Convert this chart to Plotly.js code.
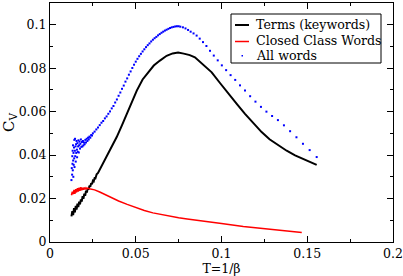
<!DOCTYPE html>
<html>
<head>
<meta charset="utf-8">
<script src="https://cdn.plot.ly/plotly-3.0.1.min.js"></script>
<style>html,body{margin:0;padding:0;background:#fff}#chart{width:403px;height:276px}</style>
</head>
<body>
<div id="chart"></div>
<script>
// Terms (keywords)
const termsT = [0.0125,0.0130,0.0135,0.0140,0.0145,0.0150,0.0155,0.0160,0.0165,0.0170,0.0175,0.0180,0.0185,0.0190,0.0195,0.0200,0.0205,0.0210,0.0215,0.0220,0.0225,0.0230,0.0235,0.0240,0.0245,0.0250,0.0255,0.0260,0.0265,0.0272,0.0280,0.0290,0.0300,
  0.0310,0.0331,0.0360,0.0389,0.0420,0.0447,0.0476,0.0506,0.0540,0.0573,0.0605,0.0641,0.0680,0.0715,0.0747,0.0780,0.0815,0.0845,0.0875,0.0910,0.0943,0.0990,0.1040,0.1090,0.1137,0.1185,0.1234,0.1280,0.1331,0.1380,0.1429,0.1490,0.1555];
const termsC = [0.0118,0.0142,0.0124,0.0156,0.0136,0.0166,0.0149,0.0176,0.0161,0.0186,0.0173,0.0196,0.0186,0.0211,0.0199,0.0223,0.0213,0.0236,0.0227,0.0247,0.0241,0.0259,0.0254,0.0271,0.0266,0.0282,0.0279,0.0294,0.0293,0.0312,0.0318,0.0333,0.0346,
  0.0362,0.0391,0.0435,0.0483,0.0538,0.0590,0.0645,0.0697,0.0748,0.0783,0.0812,0.0835,0.0857,0.0868,0.0872,0.0867,0.0860,0.0850,0.0830,0.0805,0.0781,0.0733,0.0682,0.0635,0.0590,0.0547,0.0506,0.0473,0.0445,0.0420,0.0399,0.0378,0.0355];

// Closed Class Words
const closedT = [0.0125,0.0130,0.0135,0.0140,0.0145,0.0150,0.0155,0.0160,0.0165,0.0170,0.0175,0.0180,0.0185,0.0190,0.0195,0.0200,0.0205,0.0210,0.0215,0.0220,0.0230,0.0240,
  0.0260,0.0290,0.0320,0.0360,0.0400,0.0450,0.0500,0.0550,0.0600,0.0650,0.0700,0.0750,0.0800,0.0875,0.0950,0.1000,0.1127,0.1263,0.1360,0.1468];
const closedC = [0.0215,0.0232,0.0220,0.0240,0.0222,0.0243,0.0228,0.0248,0.0232,0.0250,0.0236,0.0252,0.0238,0.0250,0.0240,0.0251,0.0242,0.0249,0.0244,0.0248,0.0245,0.0244,
  0.0240,0.0230,0.0218,0.0203,0.0189,0.0173,0.0158,0.0145,0.0134,0.0126,0.0118,0.0112,0.0106,0.0099,0.0091,0.0085,0.0071,0.0059,0.0051,0.0044];

// All words
const allT = [0.0125,0.0127,0.0129,0.0130,0.0131,0.0132,0.0133,0.0134,0.0135,0.0136,0.0137,0.0138,0.0140,0.0141,0.0142,0.0143,0.0145,0.0146,0.0147,0.0149,0.0150,0.0152,0.0153,0.0155,0.0157,0.0158,0.0160,0.0162,0.0164,0.0166,0.0168,0.0170,0.0172,0.0175,0.0177,0.0180,0.0183,0.0186,0.0189,0.0192,0.0195,0.0198,0.0202,0.0206,0.0210,0.0214,0.0218,0.0222,0.0226,0.0230,0.0235,0.0240,0.0245,0.0250,
  0.026,0.027,0.028,0.029,0.030,0.031,0.032,0.033,0.034,0.035,0.036,0.037,0.038,0.039,0.040,0.041,0.042,0.043,0.044,0.045,0.046,0.047,0.048,0.049,0.050,0.051,0.052,0.053,0.054,0.055,0.056,0.057,0.058,0.059,0.060,0.061,0.062,0.063,0.064,0.065,0.066,0.067,0.068,0.069,0.070,0.071,0.072,0.073,0.074,0.075,0.076,
  0.0775,0.0790,0.0805,0.0820,0.0837,0.0855,0.0873,0.0892,0.0912,0.0933,0.0955,0.0978,0.1002,0.1027,0.1053,0.1080,0.1108,0.1137,0.1167,0.1198,0.1230,0.1262,0.1295,0.1329,0.1364,0.1400,0.1437,0.1475,0.1514,0.1555];
const allC = [0.0285,0.0340,0.0310,0.0395,0.0360,0.0420,0.0330,0.0445,0.0375,0.0300,0.0410,0.0355,0.0435,0.0385,0.0470,0.0345,0.0420,0.0475,0.0395,0.0440,0.0370,0.0450,0.0410,0.0465,0.0425,0.0390,0.0455,0.0415,0.0440,0.0468,0.0412,0.0445,0.0462,0.0430,0.0452,0.0472,0.0438,0.0460,0.0440,0.0465,0.0445,0.0458,0.0450,0.0470,0.0458,0.0475,0.0465,0.0480,0.0472,0.0485,0.0480,0.0492,0.0490,0.0500,
  0.0508,0.0518,0.0527,0.0538,0.0549,0.0557,0.0569,0.0578,0.0590,0.0601,0.0615,0.0626,0.0642,0.0656,0.0673,0.0688,0.0705,0.0720,0.0738,0.0753,0.0770,0.0785,0.0801,0.0816,0.0830,0.0843,0.0855,0.0866,0.0877,0.0887,0.0897,0.0906,0.0914,0.0923,0.0931,0.0938,0.0944,0.0951,0.0957,0.0963,0.0968,0.0973,0.0977,0.0981,0.0985,0.0988,0.0990,0.0992,0.0993,0.0993,0.0991,
  0.0988,0.0983,0.0976,0.0968,0.0960,0.0950,0.0936,0.0920,0.0902,0.0880,0.0858,0.0836,0.0813,0.0791,0.0768,0.0746,0.0721,0.0697,0.0671,0.0646,0.0622,0.0600,0.0580,0.0561,0.0537,0.0510,0.0482,0.0452,0.0423,0.0391];

const xTicks = [0, 0.05, 0.1, 0.15, 0.2];
const yTicks = [0, 0.02, 0.04, 0.06, 0.08, 0.1];
const legendNames = ['Terms (keywords)', 'Closed Class Words', 'All words'];

const FONT = '"DejaVu Serif", "Liberation Serif", serif';

const traces = [
  {x: termsT, y: termsC, mode: 'lines', name: legendNames[0], line: {color: '#000000', width: 2}, showlegend: false},
  {x: closedT, y: closedC, mode: 'lines', name: legendNames[1], line: {color: '#ff0000', width: 1.5}, showlegend: false},
  {x: allT, y: allC, mode: 'markers', name: legendNames[2], marker: {color: '#0000ff', size: 2, symbol: 'square', line: {width: 0}}, showlegend: false}
];

const L = 50, R = 393, T = 3, B = 242;
const px = v => (v - L) / (R - L);
const py = v => (B - v) / (B - T);

const shapes = [
  {type: 'rect', xref: 'paper', yref: 'paper', x0: px(231), x1: px(381), y0: py(63), y1: py(14), line: {color: '#000', width: 1}, fillcolor: '#fff', layer: 'above'},
  {type: 'line', xref: 'paper', yref: 'paper', x0: px(235), x1: px(249), y0: py(25), y1: py(25), line: {color: '#000', width: 2}, layer: 'above'},
  {type: 'line', xref: 'paper', yref: 'paper', x0: px(235), x1: px(249), y0: py(41.5), y1: py(41.5), line: {color: '#ff0000', width: 1.5}, layer: 'above'},
  {type: 'rect', xref: 'paper', yref: 'paper', x0: px(241.5), x1: px(243), y0: py(56.5), y1: py(55), line: {width: 0}, fillcolor: '#0000ff', layer: 'above'}
];
const rowsY = [24.5, 41, 55.5];
const annotations = legendNames.map((n, i) => ({
  xref: 'paper', yref: 'paper', x: px(254), y: py(rowsY[i]), xanchor: 'left', yanchor: 'middle',
  text: n, showarrow: false, font: {family: FONT, size: 12.6, color: '#000'}
}));

const layout = {
  width: 403, height: 276,
  margin: {l: 50, r: 10, t: 3, b: 34, pad: 0},
  paper_bgcolor: '#fff', plot_bgcolor: '#fff',
  font: {family: FONT, size: 12.5, color: '#000'},
  showlegend: false,
  xaxis: {
    range: [0, 0.2], tickvals: xTicks, ticktext: xTicks.map(String),
    ticks: 'inside', ticklen: 6, tickwidth: 1, tickcolor: '#000',
    showline: true, linecolor: '#000', linewidth: 1, mirror: 'ticks',
    showgrid: false, zeroline: false,
    minor: {dtick: 0.025, tick0: 0, ticks: 'inside', ticklen: 3, tickcolor: '#000', tickwidth: 1, showgrid: false},
    tickfont: {family: FONT, size: 12.5, color: '#000'},
    title: {text: 'T=1/β', font: {family: FONT, size: 12.5, color: '#000'}, standoff: 2}
  },
  yaxis: {
    range: [0, 0.11], tickvals: yTicks, ticktext: yTicks.map(String),
    ticks: 'inside', ticklen: 6, tickwidth: 1, tickcolor: '#000',
    showline: true, linecolor: '#000', linewidth: 1, mirror: 'ticks',
    showgrid: false, zeroline: false,
    minor: {dtick: 0.01, tick0: 0, ticks: 'inside', ticklen: 3, tickcolor: '#000', tickwidth: 1, showgrid: false},
    tickfont: {family: FONT, size: 12.5, color: '#000'},
    title: {text: 'C<sub>V</sub>', font: {family: FONT, size: 15, color: '#000'}, standoff: 5}
  },
  shapes: shapes,
  annotations: annotations
};

Plotly.newPlot('chart', traces, layout, {displayModeBar: false, staticPlot: true});
</script>
</body>
</html>
